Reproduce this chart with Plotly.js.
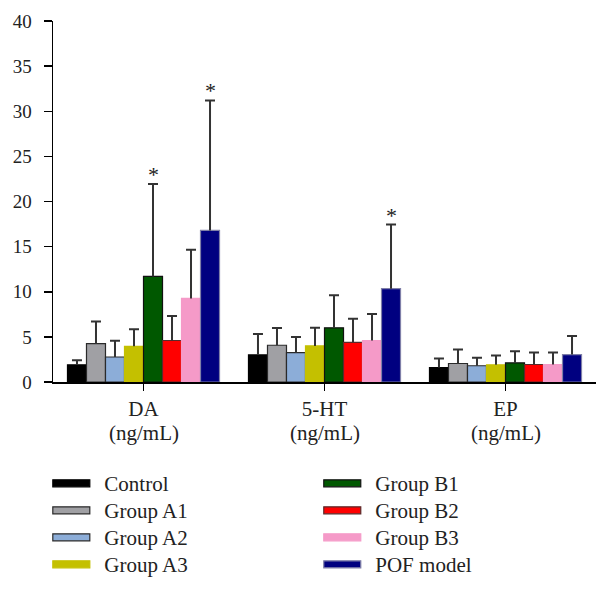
<!DOCTYPE html>
<html>
<head>
<meta charset="utf-8">
<script src="https://cdn.plot.ly/plotly-3.0.1.min.js"></script>
<style>html,body{margin:0;padding:0;background:#fff;}</style>
</head>
<body>
<div id="chart" style="width:610px;height:593px;"></div>
<script>
// ---- data ----
var categories = ["DA", "5-HT", "EP"];
var units = ["(ng/mL)", "(ng/mL)", "(ng/mL)"];
var groupNames = ["Control", "Group A1", "Group A2", "Group A3", "Group B1", "Group B2", "Group B3", "POF model"];

var controlMean = [1.9, 3.0, 1.6];
var controlErr  = [0.5, 2.33, 1.0];
var a1Mean = [4.25, 4.07, 2.05];
var a1Err  = [2.45, 1.9, 1.55];
var a2Mean = [2.77, 3.26, 1.8];
var a2Err  = [1.8, 1.74, 0.88];
var a3Mean = [3.95, 4.0, 1.9];
var a3Err  = [1.9, 2.0, 1.03];
var b1Mean = [11.7, 6.0, 2.12];
var b1Err  = [10.25, 3.6, 1.29];
var b2Mean = [4.6, 4.4, 1.94];
var b2Err  = [2.7, 2.6, 1.32];
var b3Mean = [9.26, 4.59, 1.94];
var b3Err  = [5.4, 2.95, 1.32];
var pofMean = [16.8, 10.34, 3.04];
var pofErr  = [14.4, 7.1, 2.06];

// significance marks: [category index, group index]
var starCategory = [0, 0, 1];
var starGroup    = [4, 7, 7];

var yTicks = [0, 5, 10, 15, 20, 25, 30, 35, 40];

// ---- styles ----
var fillColors = ["#000000", "#a0a0a4", "#8cadd8", "#c4c000", "#005800", "#ff0000", "#f59ac8", "#000080"];
var lineColors = ["#000000", "#2a2a2a", "#2a2a2a", "#c4c000", "#111111", "#5a2a2a", "#f59ac8", "#7f7fa8"];
var FONT = "Liberation Serif";
var TXT = "#222";

var means = [controlMean, a1Mean, a2Mean, a3Mean, b1Mean, b2Mean, b3Mean, pofMean];
var errs  = [controlErr, a1Err, a2Err, a3Err, b1Err, b2Err, b3Err, pofErr];

var traces = [];
for (var i = 0; i < groupNames.length; i++) {
  traces.push({
    type: "bar", name: groupNames[i], x: categories, y: means[i],
    marker: {color: fillColors[i], line: {color: lineColors[i], width: 1.2}},
    error_y: {type: "data", symmetric: false, array: errs[i], arrayminus: [0, 0, 0],
              color: "#333", thickness: 2, width: 5},
    legend: i < 4 ? "legend" : "legend2", hoverinfo: "skip"
  });
}

var bargap = 0.16;
var nGroups = groupNames.length;
var groupW = 1 - bargap;
var barW = groupW / nGroups;

var annotations = [];
for (var k = 0; k < starCategory.length; k++) {
  var c = starCategory[k], g = starGroup[k];
  annotations.push({
    xref: "x", yref: "y", x: c - groupW / 2 + (g + 0.5) * barW,
    y: means[g][c] + errs[g][c],
    text: "*", showarrow: false, yanchor: "bottom", yshift: -5,
    font: {family: FONT, size: 22, color: TXT}
  });
}
for (var u = 0; u < categories.length; u++) {
  annotations.push({
    xref: "x", yref: "paper", x: u, y: -0.14, yanchor: "middle",
    text: units[u], showarrow: false, font: {family: FONT, size: 21, color: TXT}
  });
}

var legendCommon = {
  font: {family: FONT, size: 21, color: TXT},
  bgcolor: "rgba(0,0,0,0)", borderwidth: 0,
  orientation: "v", xanchor: "left", yanchor: "top",
  xref: "container", yref: "container",
  itemwidth: 56, tracegroupgap: 0, traceorder: "normal",
  itemclick: false, itemdoubleclick: false
};

var layout = {
  width: 610, height: 593,
  font: {family: FONT, color: TXT},
  margin: {l: 53, r: 14, t: 21, b: 210.5, pad: 0, autoexpand: false},
  paper_bgcolor: "#fff", plot_bgcolor: "#fff",
  barmode: "group", bargap: bargap, bargroupgap: 0,
  showlegend: true,
  legend: Object.assign({}, legendCommon, {x: 0.0628, y: 0.219}),
  legend2: Object.assign({}, legendCommon, {x: 0.507, y: 0.219}),
  xaxis: {
    type: "category", range: [-0.5, 2.5],
    showline: true, linecolor: "#000", linewidth: 1.5,
    ticks: "outside", ticklen: 7, tickwidth: 1.5, tickcolor: "#000",
    showgrid: false, zeroline: false,
    tickfont: {family: FONT, size: 21, color: TXT},
    ticklabelstandoff: 0, fixedrange: true
  },
  yaxis: {
    range: [0, 40], tickmode: "array", tickvals: yTicks, ticktext: yTicks.map(String),
    showline: true, linecolor: "#000", linewidth: 1.5,
    ticks: "outside", ticklen: 8, tickwidth: 1.5, tickcolor: "#000",
    showgrid: false, zeroline: false,
    tickfont: {family: FONT, size: 19, color: TXT},
    ticklabelstandoff: 8, fixedrange: true
  },
  annotations: annotations
};

Plotly.newPlot("chart", traces, layout, {displayModeBar: false, staticPlot: true}).then(function () {
  // wide flat legend swatches like the reference
  document.querySelectorAll(".legendpoints path").forEach(function (p) {
    p.setAttribute("d", "M18.5,3.5H-18.5V-3.5H18.5Z");
  });
  // tighter legend row spacing (27 px) as in the reference
  document.querySelectorAll("g.legend, g.legend2").forEach(function (lg) {
    var items = lg.querySelectorAll("g.traces");
    var y0 = null;
    items.forEach(function (it, j) {
      var t = it.getAttribute("transform") || "";
      var m = t.match(/translate\(\s*([-\d.]+)[ ,]+([-\d.]+)\s*\)/);
      if (!m) return;
      if (y0 === null) y0 = parseFloat(m[2]);
      it.setAttribute("transform", "translate(" + m[1] + "," + (y0 + j * 27) + ")");
    });
  });
  // one-sided error bars: remove the lower cap drawn at the bar top
  document.querySelectorAll("g.errorbar path").forEach(function (p) {
    var d = p.getAttribute("d") || "";
    p.setAttribute("d", d.replace(/m-[\d.]+,0h[\d.]+$/, ""));
  });
});
</script>
</body>
</html>
